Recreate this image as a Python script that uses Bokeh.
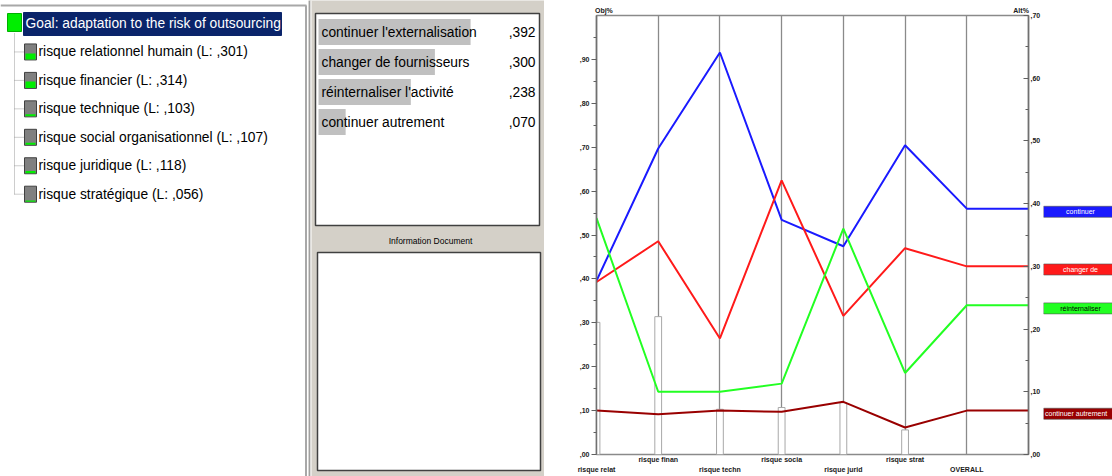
from bokeh.plotting import figure
from bokeh.layouts import row, column
from bokeh.models import (Range1d, LinearAxis, FixedTicker, CustomJSTickFormatter,
                          ColumnDataSource, Grid)
from bokeh.core.properties import value
from bokeh.embed import file_html
from bokeh.resources import INLINE

# ---------------- data ----------------
goal = "Goal: adaptation to the risk of outsourcing"
criteria = ["risque relationnel humain", "risque financier", "risque technique",
            "risque social organisationnel", "risque juridique", "risque stratégique"]
crit_weights = [0.301, 0.314, 0.103, 0.107, 0.118, 0.056]
alternatives = ["continuer l'externalisation", "changer de fournisseurs",
                "réinternaliser l'activité", "continuer autrement"]
alt_short = ["continuer", "changer de", "réinternaliser", "continuer autrement"]
overall = [0.392, 0.300, 0.238, 0.070]
axis_labels = ["risque relat", "risque finan", "risque techn", "risque socia",
               "risque jurid", "risque strat", "OVERALL"]
axis_captions = ["Obj%", "Alt%"]
# local priority of each alternative under each criterion
cont_ext = [0.277, 0.488, 0.641, 0.374, 0.332, 0.493]
chg_four = [0.275, 0.340, 0.185, 0.437, 0.221, 0.329]
reint = [0.377, 0.100, 0.100, 0.113, 0.360, 0.130]
cont_autr = [0.070, 0.064, 0.070, 0.068, 0.084, 0.043]
obj_ticks = [0.0, 0.1, 0.2, 0.3, 0.4, 0.5, 0.6, 0.7, 0.8, 0.9]
alt_ticks = [0.0, 0.1, 0.2, 0.3, 0.4, 0.5, 0.6, 0.7]

series = [cont_ext, chg_four, reint, cont_autr]
colors = ["#1a1aff", "#ff1a1a", "#22ff22", "#990000"]
label_text_colors = ["white", "white", "black", "white"]


def fmt(v):
    return "," + ("%.3f" % v).split(".")[1]


H = 476
UI = value("Liberation Sans")
UI_S = "Liberation Sans"
UI_SIZE = "13.8px"


def blank(fig, bg="white"):
    fig.grid.grid_line_color = None
    fig.outline_line_color = None
    fig.background_fill_color = bg
    fig.border_fill_color = bg
    return fig


def panel(width, height, xr, yr, bg="white", **kw):
    opts = dict(min_border=0)
    opts.update(kw)
    return blank(figure(width=width, height=height, x_range=xr, y_range=yr,
                        x_axis_location=None, y_axis_location=None,
                        output_backend="svg", toolbar_location=None, **opts), bg)


# ---------------- panel 1 : hierarchy tree ----------------
W1 = 308
f1 = panel(W1, H, Range1d(0, W1), Range1d(H, 0))
rows_y = [23 + 28.45 * i for i in range(len(criteria) + 1)]
item_y = rows_y[1:]
f1.line([0, 306], [5, 5], line_color="#a8a8a8", line_width=2)
f1.line([305.5, 305.5], [5, H], line_color="#a8a8a8", line_width=2)
f1.line([14, 14], [33, item_y[-1]], line_color="#9a9a9a", line_dash="1 1")
f1.segment(x0=[14] * len(item_y), y0=item_y, x1=[24] * len(item_y), y1=item_y,
           line_color="#9a9a9a", line_dash="1 1")
f1.quad(left=7, right=21, top=rows_y[0] - 10, bottom=rows_y[0] + 8,
        fill_color="#00ee00", line_color="#00b000")
f1.quad(left=23, right=281, top=rows_y[0] - 11, bottom=rows_y[0] + 12,
        fill_color="#0a246a", line_color="#0a246a")
f1.text(x=[25], y=[rows_y[0]], text=[goal], text_color="white", text_baseline="middle",
        text_font=UI, text_font_size=UI_SIZE)
src1 = ColumnDataSource(dict(
    y=item_y,
    top=[y - 8 for y in item_y],
    bot=[y + 8 for y in item_y],
    gtop=[y + 7.5 - 20 * w for y, w in zip(item_y, crit_weights)],
    gbot=[y + 7.5 for y in item_y],
    txt=["%s (L: %s)" % (c, fmt(w)) for c, w in zip(criteria, crit_weights)],
))
f1.quad(left=24, right=36, top="top", bottom="bot", source=src1,
        fill_color="#808080", line_color="#404040")
f1.quad(left=25, right=35, top="gtop", bottom="gbot", source=src1,
        fill_color="#00ee00", line_color=None)
f1.text(x=38, y="y", text="txt", source=src1, text_color="black", text_baseline="middle",
        text_font=UI, text_font_size=UI_SIZE)

# ---------------- panel 2 : synthesis list ----------------
X_L, X_R = 308, 544
SC = 388.0
X0 = 318.0


def px2(x):
    return (x - X0) / SC


f2 = panel(X_R - X_L, H, Range1d(px2(X_L), px2(X_R)), Range1d(H, 0), bg="#d4d0c8")
f2.quad(left=px2(308), right=px2(310), top=0, bottom=H, fill_color="#a0a0a0", line_color=None)
f2.quad(left=px2(310), right=px2(311), top=0, bottom=H, fill_color="white", line_color=None)
f2.quad(left=px2(315), right=px2(539), top=13, bottom=225, fill_color="white",
        line_color="#404040", line_width=1.5)
alt_y = [31.5 + 30 * i for i in range(len(alternatives))]
src2 = ColumnDataSource(dict(y=alt_y, v=overall, name=alternatives, vt=[fmt(v) for v in overall]))
f2.hbar(y="y", left=0, right="v", height=26, source=src2, fill_color="#c0c0c0", line_color=None)
f2.text(x=px2(321), y="y", text="name", source=src2, text_baseline="middle",
        text_font=UI, text_font_size=UI_SIZE, text_color="black")
f2.text(x=px2(535), y="y", text="vt", source=src2, text_baseline="middle", text_align="right",
        text_font=UI, text_font_size=UI_SIZE, text_color="black")
f2.text(x=[px2(430)], y=[240], text=["Information Document"], text_align="center",
        text_baseline="middle", text_font=UI, text_font_size="8.5px", text_color="black")
f2.quad(left=px2(317), right=px2(540), top=252, bottom=470, fill_color="white",
        line_color="#404040", line_width=1.5)

# ---------------- panel 3 : performance sensitivity chart ----------------
npos = len(axis_labels)          # criteria + OVERALL
W3 = 499
LB, RB, TB, BB = 52, 15, 15, 22  # frame from x=596..1028, y=15..454

f3 = figure(width=W3, height=H, x_range=Range1d(0, npos), y_range=Range1d(0, 1.0),
            min_border_left=LB, min_border_right=RB, min_border_top=TB, min_border_bottom=BB,
            x_axis_location=None, y_axis_location="left",
            output_backend="svg", toolbar_location=None)
f3.extra_y_ranges = {"alt": Range1d(0, 0.70)}
f3.grid.grid_line_color = None
f3.outline_line_color = "#8a8a8a"
f3.outline_line_width = 1.5
f3.background_fill_color = "white"
f3.border_fill_color = "white"

JS = "return ',' + String(Math.round(tick*100)).padStart(2,'0');"

la = f3.yaxis[0]
la.ticker = FixedTicker(ticks=obj_ticks, minor_ticks=[t + 0.05 for t in obj_ticks])
la.formatter = CustomJSTickFormatter(code=JS)
ra = LinearAxis(y_range_name="alt",
                ticker=FixedTicker(ticks=alt_ticks, minor_ticks=[t + 0.05 for t in alt_ticks[:-1]]),
                formatter=CustomJSTickFormatter(code=JS))
f3.add_layout(ra, "right")


def small_text(ax):
    ax.major_label_text_font = UI_S
    ax.major_label_text_font_size = "7px"
    ax.major_label_text_font_style = "bold"
    ax.major_label_text_color = "#202020"


def bare(ax, standoff):
    ax.axis_line_color = None
    ax.major_tick_line_color = None
    ax.minor_tick_line_color = None
    ax.major_tick_out = ax.major_tick_in = 0
    ax.minor_tick_out = ax.minor_tick_in = 0
    ax.major_label_standoff = standoff
    small_text(ax)


for ax, side in ((la, "left"), (ra, "right")):
    ax.axis_line_color = "#707070"
    ax.axis_line_width = 1.5
    ax.major_tick_line_color = "#606060"
    ax.minor_tick_line_color = "#606060"
    small_text(ax)
    ax.major_label_standoff = 2
    if side == "left":
        ax.major_tick_out, ax.major_tick_in = 5, 0
        ax.minor_tick_out, ax.minor_tick_in = 3, 0
    else:
        ax.major_tick_out, ax.major_tick_in = 0, 5
        ax.minor_tick_out, ax.minor_tick_in = 0, 3

# criterion names below the chart, staggered on two text rows
for parity, standoff in ((1, 1), (0, 0)):
    idx = [i for i in range(npos) if i % 2 == parity]
    bx = LinearAxis(ticker=FixedTicker(ticks=idx),
                    major_label_overrides={i: axis_labels[i] for i in idx})
    bare(bx, standoff)
    f3.add_layout(bx, "below")

# captions above the two y axes
cap = LinearAxis(ticker=FixedTicker(ticks=[0.12, npos - 0.12]),
                 formatter=CustomJSTickFormatter(args=dict(c=axis_captions),
                                                 code="return tick < 1 ? c[0] : c[1];"))
bare(cap, 2)
f3.add_layout(cap, "above")

f3.add_layout(Grid(dimension=0, ticker=FixedTicker(ticks=list(range(1, npos))),
                   grid_line_color="#8a8a8a", grid_line_width=1.3))

crit_pos = list(range(len(criteria)))
f3.vbar(x=crit_pos, top=crit_weights, bottom=0, width=0.11,
        fill_color="white", line_color="#a8a8a8", line_width=1)

line_x = list(range(npos + 1))
for vals, ov, col in zip(series, overall, colors):
    f3.line(line_x, vals + [ov, ov], line_color=col, line_width=2, y_range_name="alt")

# ---------------- panel 4 : alternative tags ----------------
W4 = 1112 - 544 - W3
f4 = panel(W4, H, Range1d(0, W4), Range1d(0, 0.70),
           min_border_top=TB, min_border_bottom=BB, min_border_left=0, min_border_right=0)
tag_y = [v - 0.005 for v in overall]
f4.rect(x=37.5, y=tag_y, width=75, height=11, width_units="screen", height_units="screen",
        fill_color=colors, line_color="#505050", line_width=0.6)
f4.text(x=[37] * 3, y=tag_y[:3], text=alt_short[:3], text_color=label_text_colors[:3],
        text_align="center", text_baseline="middle", text_font=UI, text_font_size="7px")
f4.text(x=[1.5], y=tag_y[3:], text=alt_short[3:], text_color=label_text_colors[3:],
        text_align="left", text_baseline="middle", text_font=UI, text_font_size="7px")

# the two text panels are wrapped on their own so that their frames keep the full height
layout = row(column(f1), column(f2), row(f3, f4))
open("out.html", "w").write(file_html(layout, INLINE))
